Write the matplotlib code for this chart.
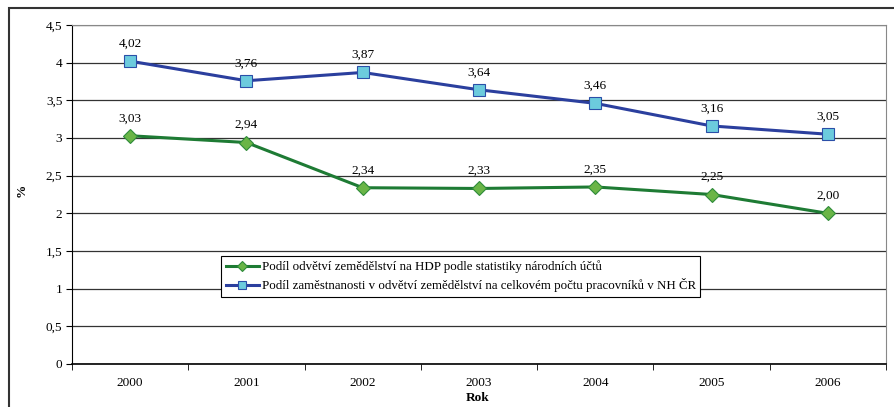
import matplotlib
matplotlib.use("Agg")
import matplotlib.pyplot as plt
from matplotlib.patches import Rectangle

years = ["2000", "2001", "2002", "2003", "2004", "2005", "2006"]
hdp = [3.03, 2.94, 2.34, 2.33, 2.35, 2.25, 2.00]
employ = [4.02, 3.76, 3.87, 3.64, 3.46, 3.16, 3.05]
yticks = [0, 0.5, 1, 1.5, 2, 2.5, 3, 3.5, 4, 4.5]
ytick_labels = ["0", "0,5", "1", "1,5", "2", "2,5", "3", "3,5", "4", "4,5"]
label_hdp = "Podíl odvětví zemědělství na HDP podle statistiky národních účtů"
label_emp = "Podíl zaměstnanosti v odvětví zemědělství na celkovém počtu pracovníků v NH ČR"

plt.rcParams['font.family'] = ['Liberation Serif', 'DejaVu Serif']

W, H = 895, 407
fig = plt.figure(figsize=(W / 100, H / 100), dpi=100)
# outer frame
fig.patches.append(Rectangle((9 / W, -0.1), 1.2, (H - 8) / H + 0.1, transform=fig.transFigure,
                             fill=False, edgecolor="#333333", linewidth=1.5, zorder=0))

left, right, top, bottom = 72, 886, 25, 364
ax = fig.add_axes([left / W, 1 - bottom / H, (right - left) / W, (bottom - top) / H])

x = list(range(len(years)))
ax.plot(x, hdp, color="#1E7B34", linewidth=2.2, marker="D", markersize=7,
        markerfacecolor="#6AB547", markeredgecolor="#2E8B3A", markeredgewidth=0.8,
        label=label_hdp, zorder=3)
ax.plot(x, employ, color="#2B3F9E", linewidth=2.2, marker="s", markersize=9,
        markerfacecolor="#6CCBDD", markeredgecolor="#2B4FA8", markeredgewidth=0.8,
        label=label_emp, zorder=3)

for series in (hdp, employ):
    for xi, v in zip(x, series):
        ax.annotate(f"{v:.2f}".replace(".", ","), (xi, v), xytext=(0, 12.5), textcoords="offset points",
                    ha="center", va="center", fontsize=9.5)

ax.set_xlim(-0.5, len(years) - 0.5)
ax.set_ylim(0, 4.5)
ax.set_yticks(yticks)
ax.set_yticklabels(ytick_labels, fontsize=9.5)
ax.set_xticks(x)
ax.set_xticklabels(years, fontsize=9.5)
ax.set_xticks([i - 0.5 for i in range(len(years) + 1)], minor=True)
ax.tick_params(axis="x", which="major", length=0, pad=9)
ax.tick_params(axis="x", which="minor", length=4, direction="out", color="black")
ax.tick_params(axis="y", length=4, direction="out", color="black", pad=3)
ax.grid(axis="y", color="#333333", linewidth=0.9)
ax.set_axisbelow(True)
for s in ["top", "right"]:
    ax.spines[s].set_color("#888888")
ax.spines["left"].set_color("black")
ax.spines["bottom"].set_color("black")
ax.spines["bottom"].set_linewidth(1.2)

fig.text(478 / W, 1 - 398 / H, "Rok", ha="center", va="center", fontsize=9.5, fontweight="bold")
fig.text(22 / W, 1 - 190 / H, "%", ha="center", va="center", fontsize=9.5, fontweight="bold", rotation=90)

leg = ax.legend(loc="upper left", bbox_to_anchor=((221 - left) / (right - left), (bottom - 256) / (bottom - top)),
                fontsize=9.3, frameon=True, fancybox=False, edgecolor="black", framealpha=1,
                handlelength=2.6, handletextpad=0.2, borderpad=0.35, labelspacing=0.4, borderaxespad=0,
                markerscale=0.7)
leg.get_frame().set_linewidth(0.8)

fig.savefig("out.png", dpi=100)
